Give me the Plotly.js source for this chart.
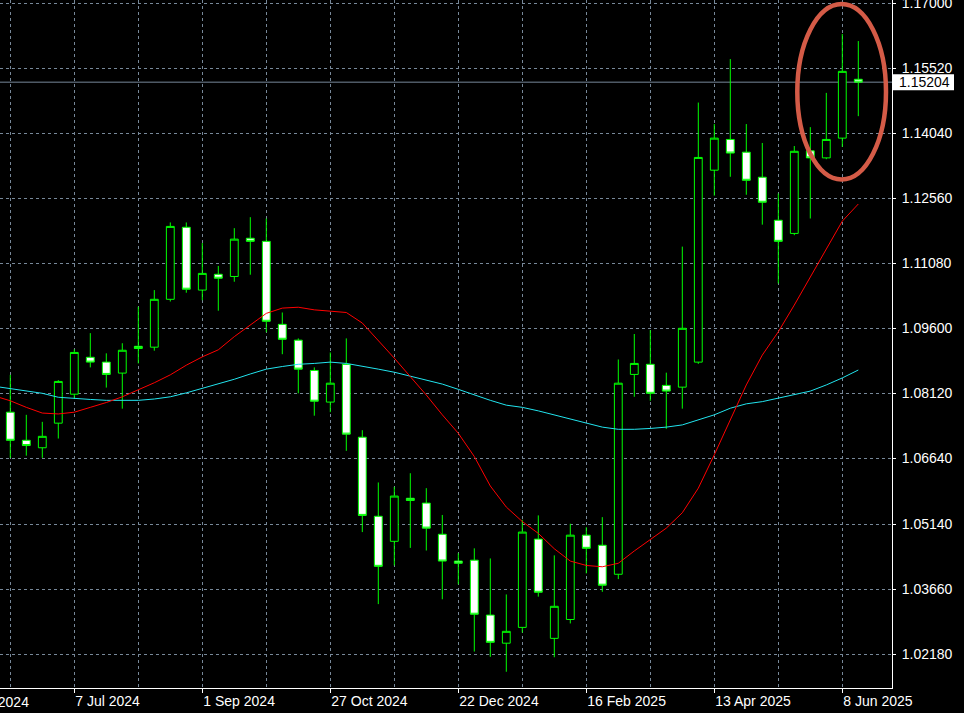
<!DOCTYPE html>
<html>
<head>
<meta charset="utf-8">
<script src="https://cdn.plot.ly/plotly-3.0.1.min.js"></script>
<style>html,body{margin:0;padding:0;background:#000;}#chart{width:964px;height:713px;}</style>
</head>
<body>
<div id="chart"></div>
<script>
// Weekly candles (week start, Sunday)
const weeks = ['2024-06-09','2024-06-16','2024-06-23','2024-06-30','2024-07-07','2024-07-14','2024-07-21','2024-07-28',
 '2024-08-04','2024-08-11','2024-08-18','2024-08-25','2024-09-01','2024-09-08','2024-09-15','2024-09-22',
 '2024-09-29','2024-10-06','2024-10-13','2024-10-20','2024-10-27','2024-11-03','2024-11-10','2024-11-17',
 '2024-11-24','2024-12-01','2024-12-08','2024-12-15','2024-12-22','2024-12-29','2025-01-05','2025-01-12',
 '2025-01-19','2025-01-26','2025-02-02','2025-02-09','2025-02-16','2025-02-23','2025-03-02','2025-03-09',
 '2025-03-16','2025-03-23','2025-03-30','2025-04-06','2025-04-13','2025-04-20','2025-04-27','2025-05-04',
 '2025-05-11','2025-05-18','2025-05-25','2025-06-01','2025-06-08','2025-06-15'];
const weekOpen = [1.0769,1.0705,1.0688,1.0744,1.0810,1.0894,1.0883,1.0858,1.0919,1.0917,1.1026,1.1190,1.1047,1.1083,1.1078,1.1165,
 1.1158,1.0969,1.0933,1.0864,1.0792,1.0878,1.0712,1.0532,1.0475,1.0573,1.0562,1.0491,1.0430,1.0432,1.0307,1.0243,
 1.0279,1.0480,1.0254,1.0297,1.0489,1.0466,1.0400,1.0855,1.0878,1.0830,1.0826,1.0883,1.1320,1.1390,1.1361,1.1304,
 1.1206,1.1176,1.1364,1.1348,1.1393,1.1527];
const weekHigh = [1.0854,1.0763,1.0747,1.0842,1.0912,1.0949,1.0903,1.0926,1.1009,1.1047,1.1201,1.1201,1.1154,1.1102,1.1188,1.1213,
 1.1210,1.0996,1.0937,1.0871,1.0905,1.0937,1.0728,1.0609,1.0599,1.0630,1.0596,1.0535,1.0448,1.0459,1.0436,1.0354,
 1.0524,1.0534,1.0443,1.0515,1.0507,1.0530,1.0889,1.0947,1.0956,1.0859,1.1146,1.1474,1.1425,1.1573,1.1425,1.1382,
 1.1267,1.1375,1.1418,1.1496,1.1630,1.1614];
const weekLow = [1.0665,1.0670,1.0665,1.0709,1.0801,1.0871,1.0825,1.0777,1.0880,1.0909,1.1021,1.1041,1.1024,1.1000,1.1066,1.1082,
 1.0951,1.0901,1.0812,1.0761,1.0769,1.0681,1.0496,1.0332,1.0420,1.0460,1.0454,1.0343,1.0377,1.0224,1.0212,1.0178,
 1.0267,1.0349,1.0211,1.0288,1.0402,1.0360,1.0389,1.0804,1.0795,1.0731,1.0777,1.0879,1.1262,1.1305,1.1264,1.1196,
 1.1062,1.1172,1.1210,1.1345,1.1373,1.1443];
const weekClose = [1.0705,1.0693,1.0714,1.0839,1.0905,1.0883,1.0855,1.0910,1.0914,1.1026,1.1192,1.1049,1.1085,1.1074,1.1163,1.1158,
 1.0976,1.0935,1.0867,1.0794,1.0835,1.0719,1.0534,1.0418,1.0578,1.0568,1.0505,1.0430,1.0425,1.0309,1.0245,1.0270,
 1.0496,1.0359,1.0327,1.0489,1.0459,1.0375,1.0835,1.0880,1.0812,1.0817,1.0960,1.1349,1.1393,1.1359,1.1297,1.1247,
 1.1158,1.1363,1.1348,1.1390,1.1545,1.15204];

// Moving averages (first value is the week before the first visible candle)
const maPrevWeek = '2024-06-02';
const maRed = [1.0806,1.0795,1.0780,1.0767,1.0765,1.0769,1.0780,1.0791,1.0804,1.0820,1.0836,1.0854,1.0876,1.0895,1.0911,1.0941,
 1.0968,1.0994,1.1006,1.1008,1.1002,1.0999,1.0996,1.0972,1.0933,1.0892,1.0850,1.0808,1.0763,1.0721,1.0668,1.0601,
 1.0553,1.0520,1.0493,1.0458,1.0430,1.0420,1.0417,1.0425,1.0453,1.0480,1.0505,1.0540,1.0596,1.0672,1.0751,1.0831,
 1.0899,1.0952,1.1013,1.1077,1.1143,1.1204,1.1243];
const maCyan = [1.0828,1.0823,1.0818,1.0812,1.0803,1.0800,1.0798,1.0796,1.0796,1.0796,1.0799,1.0804,1.0813,1.0823,1.0833,1.0844,
 1.0856,1.0867,1.0873,1.0878,1.0880,1.0883,1.0880,1.0874,1.0867,1.0860,1.0851,1.0842,1.0833,1.0821,1.0808,1.0796,
 1.0785,1.0780,1.0772,1.0763,1.0753,1.0744,1.0735,1.0730,1.0730,1.0732,1.0735,1.0740,1.0751,1.0763,1.0778,1.0788,
 1.0793,1.0801,1.0808,1.0817,1.0831,1.0847,1.0865];

// Axis labels
const xTickWeeks = ['2024-07-07','2024-09-01','2024-10-27','2024-12-22','2025-02-16','2025-04-13','2025-06-08'];
const xTickLabels = ['7 Jul 2024','1 Sep 2024','27 Oct 2024','22 Dec 2024','16 Feb 2025','13 Apr 2025','8 Jun 2025'];
const cutOffLabel = '12 May 2024';
const yTickLabels = ['1.17000','1.15520','1.14040','1.12560','1.11080','1.09600','1.08120','1.06640','1.05140','1.03660','1.02180'];

const maWeeks = [maPrevWeek].concat(weeks);
const lastClose = weekClose[weekClose.length - 1];
const GREEN = '#00ff00', GRID = '#778899';
const WEEK = 7 * 864e5;
const t0 = Date.parse(weeks[0] + 'T00:00:00Z');
const FONT = 'Liberation Sans, Arial, sans-serif';

const traces = [
  {type:'scatter', mode:'lines', x:maWeeks, y:maCyan, line:{color:'#22e4ee', width:1}, hoverinfo:'skip'},
  {type:'scatter', mode:'lines', x:maWeeks, y:maRed, line:{color:'#ff0000', width:1}, hoverinfo:'skip'},
  {type:'candlestick', x:weeks, open:weekOpen, high:weekHigh, low:weekLow, close:weekClose,
   increasing:{line:{color:GREEN, width:1}, fillcolor:'#000000'},
   decreasing:{line:{color:GREEN, width:1}, fillcolor:'#ffffff'},
   whiskerwidth:0, hoverinfo:'skip'}
];

const layout = {
  width:964, height:713,
  margin:{l:0, r:72, t:0, b:25, pad:0},
  paper_bgcolor:'#000', plot_bgcolor:'#000',
  showlegend:false,
  font:{family:FONT, size:14, color:'#ffffff'},
  xaxis:{
    type:'date',
    range:[t0 - 0.644*WEEK, t0 + 55.106*WEEK],
    rangeslider:{visible:false},
    tickmode:'array', tickvals:xTickWeeks, ticktext:xTickLabels,
    ticks:'outside', ticklen:4, tickcolor:'#ffffff', tickwidth:1,
    ticklabelposition:'outside right',
    showgrid:true, gridcolor:GRID, griddash:'3px,3px', gridwidth:1,
    minor:{tick0:weeks[0], dtick:4*WEEK, showgrid:true, gridcolor:GRID, griddash:'3px,3px', gridwidth:1, ticks:''},
    showline:true, linecolor:'#ffffff', linewidth:1, zeroline:false,
    tickfont:{family:FONT, size:14, color:'#ffffff'}
  },
  yaxis:{
    side:'right',
    range:[1.0141, 1.17075],
    tickmode:'array', tickvals:yTickLabels.map(Number), ticktext:yTickLabels,
    ticks:'outside', ticklen:3, tickcolor:'#ffffff', tickwidth:1,
    ticklabelstandoff:3, ticklabeloverflow:'allow',
    showgrid:true, gridcolor:GRID, griddash:'3px,3px', gridwidth:1,
    showline:true, linecolor:'#ffffff', linewidth:1, zeroline:false,
    tickfont:{family:FONT, size:14, color:'#ffffff'}
  },
  shapes:[
    {type:'line', xref:'paper', x0:0, x1:1, yref:'y', y0:lastClose, y1:lastClose, line:{color:GRID, width:1}, layer:'below'},
    {type:'rect', xref:'paper', xsizemode:'pixel', xanchor:1, x0:1, x1:62,
     yref:'y', ysizemode:'pixel', yanchor:lastClose, y0:-8, y1:8, fillcolor:'#ffffff', line:{width:0}},
    {type:'circle', xref:'paper', yref:'paper', x0:797.3/892, x1:886/892, y0:1-179.5/688, y1:1-4/688,
     line:{color:'#d45b47', width:4.5}}
  ],
  annotations:[
    {text:lastClose.toFixed(5), xref:'paper', x:1, xanchor:'left', xshift:5, yref:'y', y:lastClose, yanchor:'middle',
     showarrow:false, font:{family:FONT, size:14, color:'#000000'}},
    {text:cutOffLabel, xref:'paper', x:-53.7/892, xanchor:'left', yref:'paper', y:0, yanchor:'top', yshift:-4,
     showarrow:false, font:{family:FONT, size:14, color:'#ffffff'}}
  ]
};

Plotly.newPlot('chart', traces, layout, {displayModeBar:false, staticPlot:true});
</script>
</body>
</html>
